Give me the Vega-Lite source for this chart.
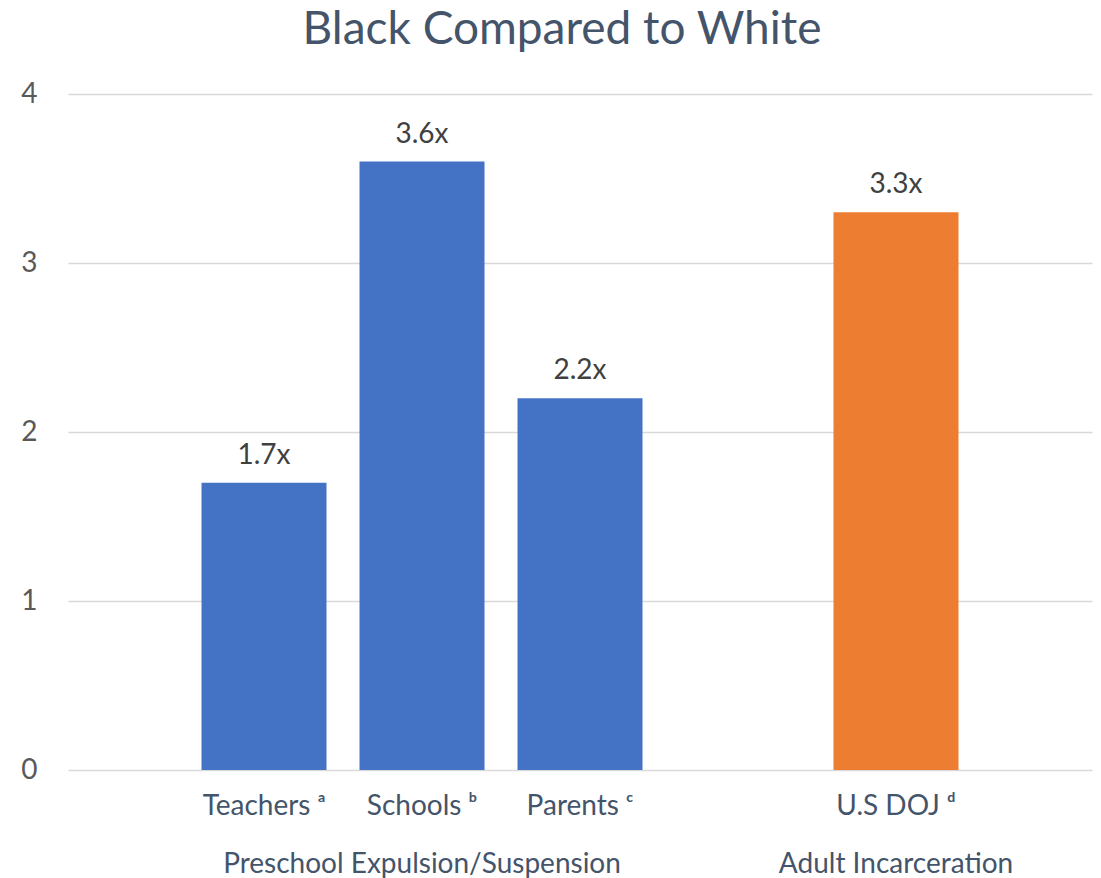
{
  "$schema": "https://vega.github.io/schema/vega-lite/v6.json",
  "width": 1024,
  "height": 676,
  "autosize": "none",
  "padding": {"left": 68, "top": 94, "right": 9, "bottom": 108},
  "background": "white",
  "title": {"text": "Black Compared to White", "fontSize": 46, "font": "Lato", "fontWeight": "normal", "color": "#44546A", "anchor": "middle", "offset": 26, "dx": -18},
  "config": {"view": {"stroke": null}},
  "data": {"values": [
    {"measure": "Teachers ᵃ", "ratio": 1.7, "label": "1.7x", "series": "Preschool Expulsion/Suspension"},
    {"measure": "Schools ᵇ", "ratio": 3.6, "label": "3.6x", "series": "Preschool Expulsion/Suspension"},
    {"measure": "Parents ᶜ", "ratio": 2.2, "label": "2.2x", "series": "Preschool Expulsion/Suspension"},
    {"measure": "U.S DOJ ᵈ", "ratio": 3.3, "label": "3.3x", "series": "Adult Incarceration"}
  ]},
  "encoding": {
    "x": {
      "field": "measure", "type": "nominal", "sort": null,
      "scale": {"domain": ["Teachers ᵃ", "Schools ᵇ", "Parents ᶜ", " ", "U.S DOJ ᵈ"], "paddingInner": 0.2089, "paddingOuter": 0.845},
      "axis": {
        "title": null, "domain": false, "ticks": false, "labelAngle": 0,
        "labelFont": "Lato", "labelFontSize": 28, "labelColor": "#44546A",
        "labelPadding": 22, "labelLineHeight": 58, "labelOverlap": false, "labelLimit": 0,
        "labelExpr": "datum.value == 'Schools ᵇ' ? ['Schools ᵇ', 'Preschool Expulsion/Suspension'] : datum.value == 'U.S DOJ ᵈ' ? ['U.S DOJ ᵈ', 'Adult Incarceration\u00a0\u00a0\u00a0'] : datum.value"
      }
    },
    "y": {
      "field": "ratio", "type": "quantitative",
      "scale": {"domain": [0, 4]},
      "axis": {
        "title": null, "domain": false, "ticks": false, "values": [0, 1, 2, 3, 4],
        "labelFont": "Lato", "labelFontSize": 28, "labelColor": "#595959", "labelPadding": 31,
        "gridColor": "#D9D9D9", "gridWidth": 1.5
      }
    }
  },
  "layer": [
    {
      "mark": {"type": "bar", "width": 125},
      "encoding": {
        "color": {"field": "series", "type": "nominal", "scale": {"domain": ["Preschool Expulsion/Suspension", "Adult Incarceration"], "range": ["#4472C4", "#ED7D31"]}, "legend": null}
      }
    },
    {
      "mark": {"type": "text", "baseline": "bottom", "dy": -13, "fontSize": 28, "font": "Lato", "color": "#404040"},
      "encoding": {"text": {"field": "label"}}
    }
  ]
}
